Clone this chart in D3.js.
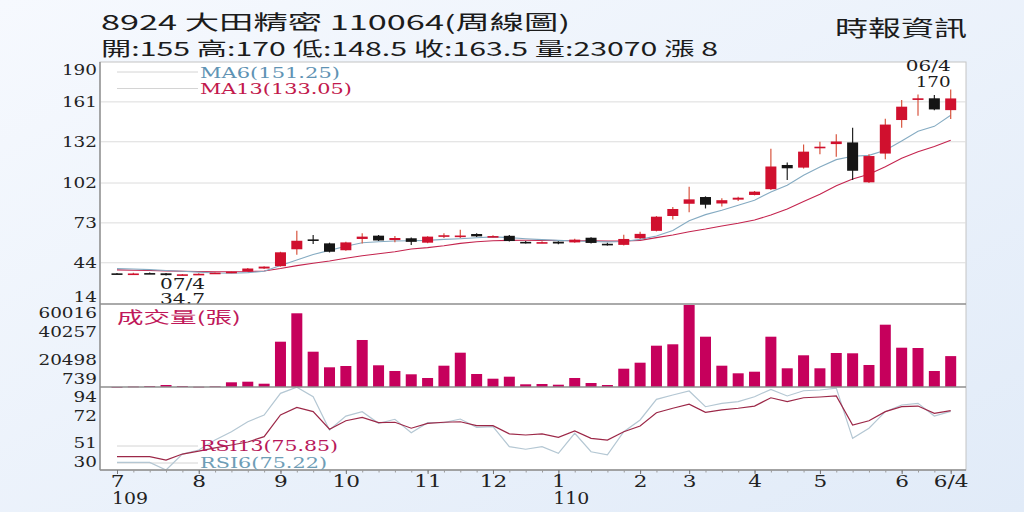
<!DOCTYPE html>
<html lang="zh-Hant">
<head>
    <meta charset="UTF-8">
    <title>8924 大田精密 周線圖</title>
    <script src="https://d3js.org/d3.v7.min.js"></script>
    <style>
        html, body { margin: 0; padding: 0; }
        body { width: 1024px; height: 512px; overflow: hidden; background: #ecf3fb; }
        svg { display: block; }
    </style>
</head>
<body>
<svg id="chart" width="1024" height="512"></svg>
<script>
'use strict';

// weekly candles, 109/07 .. 110/06
const weeks = [
    '07/1', '07/2', '07/3', '07/4', '07/5',
    '08/1', '08/2', '08/3', '08/4', '08/5',
    '09/1', '09/2', '09/3', '09/4',
    '10/1', '10/2', '10/3', '10/4', '10/5',
    '11/1', '11/2', '11/3', '11/4',
    '12/1', '12/2', '12/3', '12/4',
    '01/1', '01/2', '01/3', '01/4', '01/5',
    '02/1', '02/2', '02/3',
    '03/1', '03/2', '03/3', '03/4',
    '04/1', '04/2', '04/3', '04/4',
    '05/1', '05/2', '05/3', '05/4', '05/5',
    '06/1', '06/2', '06/3', '06/4'
];
const opens = [36.3, 36.0, 36.5, 36.3, 35.0, 35.8, 36.0, 36.8, 37.6, 39.8,
    41.5, 53.8, 61.0, 58.1, 53.1, 61.3, 63.7, 60.5, 61.8, 58.6,
    63.0, 63.3, 64.9, 63.0, 63.6, 59.2, 58.8, 59.3, 58.8, 62.2,
    57.8, 57.0, 61.8, 67.2, 78.0, 86.9, 91.8, 87.1, 89.9, 93.3,
    97.5, 115.1, 113.2, 128.2, 130.3, 131.5, 102.5, 123.4, 147.8, 162.4,
    163.6, 155.0];
const highs = [36.6, 36.8, 37.0, 36.6, 35.8, 36.4, 37.0, 37.8, 40.2, 41.5,
    52.0, 67.3, 64.2, 58.6, 59.2, 65.4, 64.2, 63.5, 62.3, 63.3,
    65.5, 68.0, 65.5, 64.0, 64.2, 59.8, 59.6, 59.6, 61.5, 62.6,
    58.5, 64.3, 66.5, 78.0, 84.5, 99.3, 92.3, 91.0, 92.0, 96.2,
    127.0, 117.0, 130.0, 132.0, 137.4, 142.2, 123.0, 148.8, 162.4, 166.3,
    166.0, 170.0];
const lows = [35.8, 35.6, 36.0, 34.7, 34.8, 35.5, 35.8, 36.5, 37.4, 39.5,
    41.2, 49.8, 57.6, 51.5, 52.8, 58.0, 59.8, 59.0, 57.0, 58.2,
    62.0, 62.0, 62.8, 62.5, 59.5, 58.0, 58.2, 57.5, 58.5, 58.0,
    56.5, 56.5, 61.2, 66.8, 75.5, 80.7, 83.5, 85.0, 89.0, 93.0,
    97.0, 104.2, 112.5, 123.0, 121.1, 104.2, 102.0, 119.2, 142.2, 151.0,
    155.0, 148.5];
const closes = [36.0, 36.2, 36.3, 35.0, 35.6, 36.0, 36.8, 37.5, 39.8, 41.2,
    51.6, 60.0, 60.0, 52.0, 58.8, 63.0, 60.2, 62.0, 59.2, 63.0,
    64.0, 63.8, 63.2, 63.4, 59.8, 58.8, 59.0, 58.0, 60.8, 58.4,
    57.5, 61.3, 65.0, 77.5, 83.1, 90.1, 86.2, 89.5, 91.3, 95.7,
    114.0, 112.7, 124.8, 128.4, 132.2, 110.9, 121.6, 144.5, 157.5, 163.6,
    155.5, 163.5];
const ma6 = [39.7, 39.5, 39.0, 38.4, 37.8, 37.2, 36.6, 36.4, 36.8, 37.8,
    42.0, 46.0, 50.0, 53.0, 56.0, 58.5, 59.3, 59.8, 60.0, 60.3,
    61.0, 61.5, 62.2, 62.8, 62.3, 61.5, 60.8, 60.3, 59.8, 59.5,
    59.2, 59.5, 61.0, 63.5, 67.5, 74.5, 79.0, 82.2, 85.8, 89.5,
    95.5, 100.3, 107.6, 113.7, 119.0, 121.4, 122.1, 125.8, 132.6, 139.6,
    143.2, 151.25];
const ma13 = [38.8, 38.6, 38.4, 38.1, 37.8, 37.6, 37.5, 37.5, 37.6, 38.0,
    39.8, 41.9, 43.6, 45.3, 47.3, 49.1, 50.5, 52.0, 54.0, 55.0,
    56.4, 58.1, 59.3, 60.0, 60.3, 60.4, 60.3, 60.2, 60.0, 59.9,
    59.7, 59.8, 60.3, 62.3, 64.2, 66.6, 68.5, 70.7, 72.7, 75.1,
    78.7, 83.1, 88.5, 93.8, 100.0, 104.9, 108.3, 113.9, 120.0, 124.8,
    128.5, 133.05];
const volumes = [800, 1100, 1460, 2180, 1460, 950, 1240, 4140, 4570, 3120,
    33490, 54020, 26260, 14980, 15920, 34720, 16430, 12310, 9920, 7250,
    16140, 25540, 10140, 6740, 8190, 2690, 2910, 2400, 7250, 3630,
    2180, 13970, 18310, 30600, 31610, 60016, 37100, 16140, 10640, 11800,
    37100, 14260, 23660, 14260, 25320, 25100, 16650, 45780, 29150, 28930,
    12310, 23070];
const rsi6 = [35.9, 35.9, 35.9, 30.0, 42.3, 45.4, 53.1, 59.5, 67.2, 72.4,
    89.1, 93.8, 86.5, 60.8, 71.6, 75.0, 66.0, 69.1, 58.8, 66.5,
    66.5, 69.3, 62.9, 63.4, 48.0, 46.0, 48.0, 42.9, 58.3, 44.1,
    41.6, 59.5, 68.6, 84.5, 87.8, 90.9, 78.8, 81.4, 82.7, 86.5,
    92.2, 87.1, 91.1, 91.7, 93.2, 54.4, 62.2, 75.0, 80.1, 81.4,
    71.6, 75.22];
const rsi13 = [40.3, 40.3, 40.3, 37.7, 42.3, 44.6, 47.0, 49.3, 51.6, 55.7,
    72.4, 78.3, 75.0, 61.4, 68.0, 70.6, 66.5, 66.8, 62.2, 66.0,
    66.8, 67.2, 64.2, 64.2, 57.9, 57.0, 57.8, 55.2, 60.1, 54.4,
    53.1, 59.5, 63.9, 74.2, 77.6, 80.7, 74.5, 76.3, 77.6, 79.3,
    85.7, 82.7, 85.7, 86.3, 87.1, 64.7, 68.0, 75.0, 78.8, 79.3,
    73.7, 75.85];

const priceTicks = [14, 44, 73, 102, 132, 161, 190];
const volumeTicks = [739, 20498, 40257, 60016];
const rsiTicks = [30, 51, 72, 94];
const monthTickWeeks = ['07/1', '08/1', '09/1', '10/1', '11/1', '12/1',
    '01/1', '02/1', '03/1', '04/1', '05/1', '06/1', '06/4'];
const monthTickLabels = ['7', '8', '9', '10', '11', '12', '1', '2', '3', '4', '5', '6', '6/4'];
const yearTickWeeks = ['07/1', '01/1'];
const yearTickLabels = ['109', '110'];

const SERIF = '"DejaVu Serif", "Liberation Serif", serif';
const SANS = '"Noto Sans CJK TC", "Noto Sans", sans-serif';
const SX = 1.27;   // the original artwork is stretched sideways

const svg = d3.select('#chart');
const plotLeft = 100, plotRight = 966, plotTop = 62;
const priceBottom = 304, volBottom = 387, rsiBottom = 470;

const defs = svg.append('defs');
const bg = defs.append('linearGradient').attr('id', 'bg').attr('x1', 0).attr('y1', 0).attr('x2', 1).attr('y2', 1);
bg.append('stop').attr('offset', '0%').attr('stop-color', '#f6f9fe');
bg.append('stop').attr('offset', '100%').attr('stop-color', '#e1ebf8');
svg.append('rect').attr('width', 1024).attr('height', 512).attr('fill', 'url(#bg)');
svg.append('rect').attr('x', plotLeft).attr('y', plotTop)
    .attr('width', plotRight - plotLeft).attr('height', rsiBottom - plotTop)
    .attr('fill', '#fff').attr('stroke', '#c4c4c4');

const x = d3.scalePoint().domain(weeks).range([117, 950.7]);
const yPrice = d3.scaleLinear().domain([14, 190]).range([priceBottom, plotTop]);
const yVol = d3.scaleLinear().domain([739, 60016]).range([volBottom, 305]);
const yRsi = d3.scaleLinear().domain([30, 94]).range([rsiBottom, volBottom]);

function label(s, px, py, opts) {
    const t = svg.append('text')
        .attr('x', px).attr('y', py)
        .attr('font-family', opts.font || SERIF)
        .attr('font-size', opts.size || 15)
        .attr('fill', opts.color || '#222')
        .attr('text-anchor', opts.anchor || 'start')
        .text(s);
    if (opts.width) t.attr('textLength', opts.width).attr('lengthAdjust', 'spacingAndGlyphs');
    return t;
}

// header
label('8924  大田精密 110064(周線圖)', 101, 30, { font: SANS, size: 20, width: 469, color: '#1c1c1c' });
label('開:155 高:170 低:148.5 收:163.5 量:23070 漲 8', 101, 56, { font: SANS, size: 19, width: 617, color: '#1c1c1c' });
label('時報資訊', 835, 36, { font: SANS, size: 22, width: 132, color: '#1c1c1c' });

// grid lines in the price panel
svg.append('g').selectAll('line')
    .data(priceTicks.slice(1, -1))
    .join('line')
    .attr('x1', plotLeft).attr('x2', plotRight)
    .attr('y1', d => yPrice(d)).attr('y2', d => yPrice(d))
    .attr('stroke', '#dcdcdc');

// legend stubs
svg.append('g').selectAll('line')
    .data([72, 88.5, 446, 463])
    .join('line')
    .attr('x1', 117).attr('x2', 198)
    .attr('y1', d => d).attr('y2', d => d)
    .attr('stroke', '#d4d4d4');

// moving averages
const line = (scale) => d3.line().x((d, i) => x(weeks[i])).y(d => scale(d));
svg.append('path').datum(ma13).attr('d', line(yPrice)).attr('fill', 'none').attr('stroke', '#c4244e').attr('stroke-width', 1.1);
svg.append('path').datum(ma6).attr('d', line(yPrice)).attr('fill', 'none').attr('stroke', '#85abc2').attr('stroke-width', 1.1);

// candles
const candles = svg.append('g').selectAll('g')
    .data(weeks)
    .join('g');
candles.append('line')
    .attr('x1', d => x(d)).attr('x2', d => x(d))
    .attr('y1', (d, i) => yPrice(highs[i]))
    .attr('y2', (d, i) => yPrice(lows[i]))
    .attr('stroke', (d, i) => closes[i] >= opens[i] ? '#d8553f' : '#222')
    .attr('stroke-width', 1.2);
candles.append('rect')
    .attr('x', d => x(d) - 5.5)
    .attr('width', 11)
    .attr('y', (d, i) => yPrice(Math.max(opens[i], closes[i])))
    .attr('height', (d, i) => Math.max(1.6, yPrice(Math.min(opens[i], closes[i])) - yPrice(Math.max(opens[i], closes[i]))))
    .attr('fill', (d, i) => closes[i] >= opens[i] ? '#d0102e' : '#151515');

// volume bars
svg.append('g').selectAll('rect')
    .data(weeks)
    .join('rect')
    .attr('x', d => x(d) - 5.5)
    .attr('width', 11)
    .attr('y', (d, i) => yVol(volumes[i]))
    .attr('height', (d, i) => Math.max(0.8, volBottom - yVol(volumes[i])))
    .attr('fill', '#c6005c');

// RSI
svg.append('path').datum(rsi6).attr('d', line(yRsi)).attr('fill', 'none').attr('stroke', '#b4c7d3').attr('stroke-width', 1.2);
svg.append('path').datum(rsi13).attr('d', line(yRsi)).attr('fill', 'none').attr('stroke', '#9c2848').attr('stroke-width', 1.2);

// panel separators and left axis line
svg.append('g').selectAll('line')
    .data([volBottom, rsiBottom])
    .join('line')
    .attr('x1', plotLeft).attr('x2', plotRight)
    .attr('y1', d => d).attr('y2', d => d)
    .attr('stroke', '#8e8e8e').attr('stroke-width', 1.4);
svg.append('line').attr('x1', plotLeft).attr('x2', plotLeft).attr('y1', plotTop).attr('y2', rsiBottom)
    .attr('stroke', '#8e8e8e').attr('stroke-width', 1.4);

// left axes
function leftAxis(scale, ticks, nudgeTop, nudgeBottom) {
    const g = svg.append('g').attr('transform', `translate(${plotLeft},0)`)
        .call(d3.axisLeft(scale).tickValues(ticks).tickSize(0).tickPadding(3).tickFormat(d3.format('d')));
    g.select('.domain').remove();
    const lo = d3.min(ticks), hi = d3.max(ticks);
    g.selectAll('text')
        .attr('font-family', SERIF).attr('font-size', 14.5).attr('fill', '#222')
        .attr('transform', `scale(${SX},1)`)
        .attr('x', -3 / SX)
        .attr('y', d => d === hi ? nudgeTop : d === lo ? nudgeBottom : 0);
}
leftAxis(yPrice, priceTicks, 8, -7);
leftAxis(yVol, volumeTicks, 8, -8);
leftAxis(yRsi, rsiTicks, 10, -8);

// bottom axis: a small tick every week, a longer one at each month
const gWeek = svg.append('g').attr('transform', `translate(0,${rsiBottom})`)
    .call(d3.axisBottom(x).tickValues(weeks).tickSize(2.5).tickFormat(''));
gWeek.select('.domain').remove();
gWeek.selectAll('line').attr('stroke', '#9a9a9a');

const gMonth = svg.append('g').attr('transform', `translate(0,${rsiBottom})`)
    .call(d3.axisBottom(x).tickValues(monthTickWeeks).tickSize(4).tickFormat((d, i) => monthTickLabels[i]));
gMonth.select('.domain').remove();
gMonth.selectAll('line').attr('stroke', '#777');
gMonth.selectAll('text')
    .attr('font-family', SERIF).attr('font-size', 16).attr('fill', '#222')
    .attr('transform', 'scale(1.35,1)')
    .attr('dy', null).attr('y', 17);

yearTickWeeks.forEach((w, i) => {
    label(yearTickLabels[i], x(w) - 5, 504, { size: 16, width: 36, color: '#222' });
});

// legends
label('MA6(151.25)', 200, 77.5, { size: 15, width: 140, color: '#5f93b4' });
label('MA13(133.05)', 200, 94, { size: 15, width: 152, color: '#c2184c' });
label('成交量(張)', 117, 323, { font: SANS, size: 15.5, width: 124, color: '#c0185a' });
label('RSI13(75.85)', 200, 451, { size: 15, width: 138, color: '#b8185a' });
label('RSI6(75.22)', 200, 467.5, { size: 15, width: 127, color: '#6e9db6' });

// high / low marks
label('06/4', x('06/4'), 71, { size: 15, width: 45, anchor: 'end', color: '#1c1c1c' });
label('170', x('06/4'), 87, { size: 15, width: 35, anchor: 'end', color: '#1c1c1c' });
label('07/4', 160, 289, { size: 14, width: 45, color: '#1c1c1c' });
label('34.7', 160, 303.5, { size: 14, width: 45, color: '#1c1c1c' });

// price/volume separator drawn last, over the low label like the original
svg.append('line').attr('x1', plotLeft).attr('x2', plotRight).attr('y1', priceBottom).attr('y2', priceBottom)
    .attr('stroke', '#8e8e8e').attr('stroke-width', 1.4);
</script>
</body>
</html>
